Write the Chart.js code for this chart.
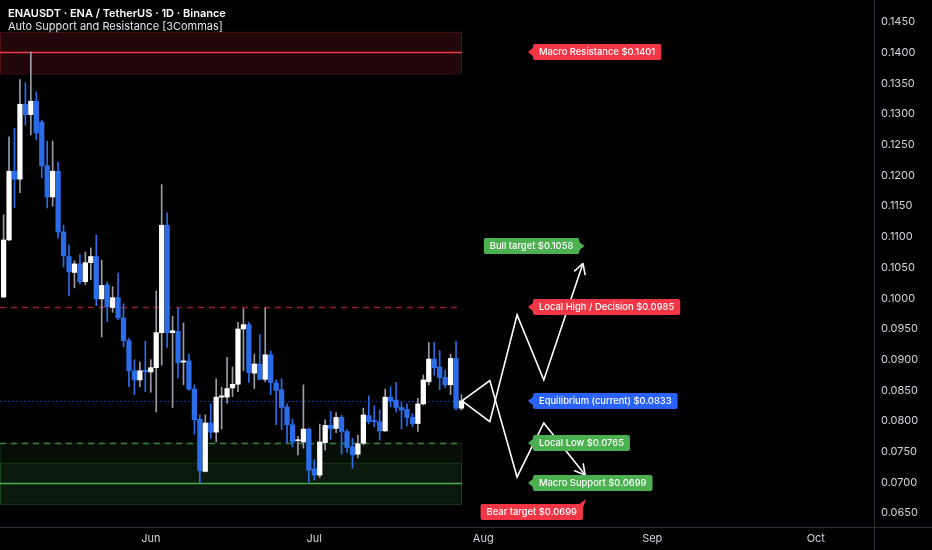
<!DOCTYPE html>
<html>
<head>
<meta charset="utf-8">
<script src="https://cdn.jsdelivr.net/npm/chart.js@4.4.1/dist/chart.umd.min.js"></script>
<style>
  html, body { margin: 0; padding: 0; background: #000; }
  #wrap { position: relative; width: 932px; height: 550px; }
</style>
</head>
<body>
<div id="wrap"><canvas id="chart"></canvas></div>
<script>
// ENAUSDT daily candles, first candle on startDate
const startDate = '2025-05-05';
const opens = [0.1002, 0.1095, 0.1207, 0.1194, 0.1316, 0.1299, 0.1321, 0.1287, 0.1216, 0.1165,
  0.1207, 0.1108, 0.1068, 0.1042, 0.1056, 0.1027, 0.1058, 0.1068, 0.0999, 0.1022,
  0.0985, 0.1001, 0.0968, 0.0931, 0.0882, 0.0867, 0.0883, 0.0880, 0.0887, 0.0944,
  0.1119, 0.0944, 0.0946, 0.0896, 0.0898, 0.0852, 0.0803, 0.0718, 0.0797, 0.0782,
  0.0839, 0.0839, 0.0854, 0.0860, 0.0950, 0.0957, 0.0878, 0.0893, 0.0868, 0.0908,
  0.0862, 0.0851, 0.0823, 0.0794, 0.0768, 0.0766, 0.0787, 0.0722, 0.0712, 0.0765,
  0.0793, 0.0788, 0.0806, 0.0783, 0.0758, 0.0746, 0.0764, 0.0809, 0.0801, 0.0799,
  0.0784, 0.0839, 0.0834, 0.0822, 0.0819, 0.0806, 0.0796, 0.0828, 0.0864, 0.0901,
  0.0888, 0.0871, 0.0859, 0.0902, 0.0821];
const highs = [0.1136, 0.1263, 0.1277, 0.1356, 0.1351, 0.1401, 0.1336, 0.1290, 0.1256, 0.1256,
  0.1222, 0.1119, 0.1087, 0.1061, 0.1071, 0.1075, 0.1082, 0.1103, 0.1062, 0.1027,
  0.1019, 0.1041, 0.0991, 0.0935, 0.0900, 0.0896, 0.0930, 0.0900, 0.1012, 0.1185,
  0.1139, 0.0971, 0.0984, 0.0960, 0.0909, 0.0859, 0.0810, 0.0810, 0.0828, 0.0869,
  0.0855, 0.0904, 0.0888, 0.0961, 0.0983, 0.0961, 0.0909, 0.0941, 0.0984, 0.0914,
  0.0867, 0.0869, 0.0828, 0.0803, 0.0775, 0.0859, 0.0788, 0.0737, 0.0795, 0.0802,
  0.0816, 0.0814, 0.0810, 0.0786, 0.0772, 0.0777, 0.0821, 0.0841, 0.0825, 0.0818,
  0.0852, 0.0856, 0.0863, 0.0830, 0.0828, 0.0812, 0.0837, 0.0875, 0.0928, 0.0928,
  0.0915, 0.0883, 0.0909, 0.0930, 0.0843];
const lows = [0.1001, 0.1094, 0.1148, 0.1172, 0.1282, 0.1266, 0.1258, 0.1196, 0.1147, 0.1150,
  0.1098, 0.1051, 0.1004, 0.1017, 0.1023, 0.1022, 0.1030, 0.0988, 0.0937, 0.0962,
  0.0977, 0.0965, 0.0921, 0.0856, 0.0843, 0.0856, 0.0848, 0.0847, 0.0815, 0.0891,
  0.0920, 0.0822, 0.0870, 0.0859, 0.0850, 0.0779, 0.0699, 0.0717, 0.0772, 0.0766,
  0.0787, 0.0829, 0.0840, 0.0848, 0.0882, 0.0863, 0.0853, 0.0867, 0.0864, 0.0843,
  0.0794, 0.0786, 0.0764, 0.0758, 0.0745, 0.0756, 0.0701, 0.0704, 0.0708, 0.0753,
  0.0770, 0.0781, 0.0746, 0.0749, 0.0723, 0.0740, 0.0761, 0.0796, 0.0791, 0.0769,
  0.0783, 0.0823, 0.0815, 0.0787, 0.0792, 0.0791, 0.0783, 0.0826, 0.0859, 0.0875,
  0.0851, 0.0855, 0.0843, 0.0818, 0.0818];
const closes = [0.1095, 0.1207, 0.1194, 0.1316, 0.1299, 0.1321, 0.1269, 0.1216, 0.1165, 0.1207,
  0.1108, 0.1069, 0.1043, 0.1056, 0.1027, 0.1058, 0.1068, 0.0999, 0.1021, 0.0986,
  0.1001, 0.0968, 0.0931, 0.0882, 0.0867, 0.0882, 0.0880, 0.0887, 0.0944, 0.1119,
  0.0944, 0.0947, 0.0895, 0.0898, 0.0852, 0.0802, 0.0719, 0.0797, 0.0782, 0.0839,
  0.0841, 0.0853, 0.0860, 0.0950, 0.0957, 0.0879, 0.0893, 0.0868, 0.0908, 0.0863,
  0.0850, 0.0822, 0.0794, 0.0766, 0.0769, 0.0787, 0.0720, 0.0712, 0.0766, 0.0793,
  0.0788, 0.0806, 0.0783, 0.0757, 0.0745, 0.0763, 0.0810, 0.0799, 0.0799, 0.0784,
  0.0839, 0.0833, 0.0822, 0.0818, 0.0806, 0.0796, 0.0828, 0.0867, 0.0901, 0.0887,
  0.0871, 0.0859, 0.0902, 0.0821, 0.0833];

const monthTicks = ['2025-06-01', '2025-07-01', '2025-08-01', '2025-09-01', '2025-10-01'];
const monthLabels = ['Jun', 'Jul', 'Aug', 'Sep', 'Oct'];
const priceTicks = [0.065, 0.070, 0.075, 0.080, 0.085, 0.090, 0.095, 0.100, 0.105,
  0.110, 0.115, 0.120, 0.125, 0.130, 0.135, 0.140, 0.145];

// support / resistance levels
const levelNames = ['Macro Resistance', 'Bull target', 'Local High / Decision',
  'Equilibrium (current)', 'Local Low', 'Macro Support', 'Bear target'];
const levelValues = [0.1401, 0.1058, 0.0985, 0.0833, 0.0765, 0.0699, 0.0699];
const resistanceZone = [0.1366, 0.1434];
const supportZone = [0.0665, 0.0765];
const supportCore = [0.0665, 0.0732];

// projected paths (x in days from startDate)
const bullDays = [84.1, 89.2, 94.2, 99.1, 106.3];
const bullPrices = [0.0833, 0.0799, 0.0973, 0.0867, 0.1057];
const bearDays = [84.1, 89.2, 94.2, 99.1, 106.7];
const bearPrices = [0.0833, 0.0866, 0.0709, 0.0797, 0.0712];

const RED = '#f23645', GREEN = '#4caf50', BLUE = '#2962ff';
const UP = '#ffffff', UP_WICK = '#9a9da5', DOWN = '#2b6de8';
const FONT = 'Inter, "Noto Sans", sans-serif';

function dayOffset(d) {
  return (Date.parse(d + 'T00:00:00Z') - Date.parse(startDate + 'T00:00:00Z')) / 86400000;
}
const isUp = i => closes[i] >= opens[i];
const lineEnd = closes.length - 1 + 0.1;

// tag placement: x in days, y in price, arrow side
const tags = [
  { i: 0, color: RED, x: 96.2, y: 0.1401, side: 'left' },
  { i: 1, color: GREEN, x: 88.1, y: 0.1085, side: 'right' },
  { i: 2, color: RED, x: 96.2, y: 0.0985, side: 'left' },
  { i: 3, color: BLUE, x: 96.2, y: 0.0833, side: 'left' },
  { i: 4, color: GREEN, x: 96.2, y: 0.0765, side: 'left' },
  { i: 5, color: GREEN, x: 96.2, y: 0.0699, side: 'left' },
  { i: 6, color: RED, x: 87.5, y: 0.0652, side: 'up' },
];

const overlay = {
  id: 'overlay',
  beforeDatasetsDraw(chart) {
    const { ctx, chartArea, scales: { x, y } } = chart;
    const x0 = chartArea.left, x1 = x.getPixelForValue(lineEnd);
    ctx.save();
    const zone = (z, fill, edge) => {
      const top = y.getPixelForValue(z[1]), bot = y.getPixelForValue(z[0]);
      ctx.fillStyle = fill;
      ctx.fillRect(x0, top, x1 - x0, bot - top);
      ctx.strokeStyle = edge;
      ctx.lineWidth = 1;
      ctx.strokeRect(x0 + 0.5, top + 0.5, x1 - x0 - 1, bot - top);
    };
    zone(resistanceZone, 'rgba(242,54,69,0.14)', 'rgba(242,54,69,0.22)');
    zone(supportZone, 'rgba(76,175,80,0.08)', 'rgba(76,175,80,0.12)');
    zone(supportCore, 'rgba(76,175,80,0.07)', 'rgba(76,175,80,0.2)');

    const hline = (v, color, width, dash) => {
      const py = Math.round(y.getPixelForValue(v)) + 0.5;
      ctx.strokeStyle = color;
      ctx.lineWidth = width;
      ctx.setLineDash(dash);
      ctx.beginPath();
      ctx.moveTo(x0, py);
      ctx.lineTo(x1, py);
      ctx.stroke();
    };
    hline(levelValues[0], RED, 1.5, []);
    hline(levelValues[2], 'rgba(242,54,69,0.6)', 1.5, [6, 5]);
    hline(levelValues[3], 'rgba(41,98,255,0.75)', 1, [1.5, 2.5]);
    hline(levelValues[4], 'rgba(76,175,80,0.7)', 1.5, [6, 5]);
    hline(levelValues[5], GREEN, 1.5, []);
    ctx.restore();
  },
  afterDatasetsDraw(chart) {
    const { ctx, scales: { x, y } } = chart;
    ctx.save();
    // arrow heads on the projected paths
    chart.data.datasets.forEach((ds, di) => {
      if (ds.type !== 'line') return;
      const pts = chart.getDatasetMeta(di).data;
      const a = pts[pts.length - 2], b = pts[pts.length - 1];
      const ang = Math.atan2(b.y - a.y, b.x - a.x);
      ctx.strokeStyle = '#ffffff';
      ctx.lineWidth = 1.6;
      ctx.beginPath();
      [-0.5, 0.5].forEach(d => {
        ctx.moveTo(b.x, b.y);
        ctx.lineTo(b.x - 12 * Math.cos(ang + d), b.y - 12 * Math.sin(ang + d));
      });
      ctx.stroke();
    });

    // price tags
    ctx.font = '500 9.4px ' + FONT;
    ctx.textBaseline = 'middle';
    tags.forEach(t => {
      const text = levelNames[t.i] + ' $' + levelValues[t.i].toFixed(4);
      const w = ctx.measureText(text).width + 12, h = 16;
      const px = x.getPixelForValue(t.x), py = Math.round(y.getPixelForValue(t.y));
      let bx = px;
      ctx.fillStyle = t.color;
      ctx.beginPath();
      if (t.side === 'left') {
        bx = px + 5;
        ctx.moveTo(px, py);
        ctx.lineTo(bx + 1, py - 5);
        ctx.lineTo(bx + 1, py + 5);
      } else if (t.side === 'right') {
        ctx.moveTo(bx + w + 5, py);
        ctx.lineTo(bx + w - 1, py - 5);
        ctx.lineTo(bx + w - 1, py + 5);
      } else {
        ctx.moveTo(bx + w - 5, py - h / 2 + 1);
        ctx.lineTo(bx + w + 3, py - h / 2 - 5);
        ctx.lineTo(bx + w, py - h / 2 + 4);
      }
      ctx.closePath();
      ctx.fill();
      ctx.beginPath();
      ctx.roundRect(bx, py - h / 2, w, h, 2);
      ctx.fill();
      ctx.fillStyle = '#ffffff';
      ctx.fillText(text, bx + 6, py + 0.5);
    });
    ctx.restore();
  },
  afterDraw(chart) {
    const { ctx, chartArea, width, height } = chart;
    ctx.save();
    // panel separators
    ctx.strokeStyle = '#2a2e39';
    ctx.lineWidth = 1;
    ctx.beginPath();
    ctx.moveTo(chartArea.right + 0.5, 0);
    ctx.lineTo(chartArea.right + 0.5, height);
    ctx.moveTo(0, chartArea.bottom + 0.5);
    ctx.lineTo(width, chartArea.bottom + 0.5);
    ctx.stroke();
    // header
    ctx.textBaseline = 'middle';
    ctx.fillStyle = '#ffffff';
    ctx.font = '600 11px ' + FONT;
    ctx.fillText('ENAUSDT · ENA / TetherUS · 1D · Binance', 8, 13.5);
    ctx.fillStyle = '#e0e3eb';
    ctx.font = '400 11px ' + FONT;
    ctx.fillText('Auto Support and Resistance [3Commas]', 8, 27);
    ctx.restore();
  }
};

new Chart(document.getElementById('chart'), {
  type: 'bar',
  data: {
    datasets: [
      {
        label: 'wick',
        data: opens.map((o, i) => ({ x: i, y: [lows[i], highs[i]] })),
        backgroundColor: c => isUp(c.dataIndex) ? UP_WICK : DOWN,
        barThickness: 1,
        grouped: false,
        order: 3
      },
      {
        label: 'body',
        data: opens.map((o, i) => ({ x: i, y: [o, closes[i]] })),
        backgroundColor: c => isUp(c.dataIndex) ? UP : DOWN,
        barThickness: 4.6,
        minBarLength: 1,
        grouped: false,
        order: 2
      },
      {
        type: 'line',
        label: 'bull',
        data: bullDays.map((d, i) => ({ x: d, y: bullPrices[i] })),
        borderColor: '#ffffff',
        borderWidth: 1.6,
        pointRadius: 0,
        tension: 0,
        order: 1
      },
      {
        type: 'line',
        label: 'bear',
        data: bearDays.map((d, i) => ({ x: d, y: bearPrices[i] })),
        borderColor: '#ffffff',
        borderWidth: 1.6,
        pointRadius: 0,
        tension: 0,
        order: 1
      }
    ]
  },
  options: {
    responsive: true,
    maintainAspectRatio: false,
    animation: false,
    layout: { padding: 0 },
    plugins: { legend: { display: false }, tooltip: { enabled: false } },
    scales: {
      x: {
        type: 'linear',
        offset: false,
        min: -0.66,
        max: 159.68,
        grid: { display: false, drawTicks: false },
        border: { display: false },
        afterBuildTicks: s => { s.ticks = monthTicks.map(d => ({ value: dayOffset(d) })); },
        afterFit: s => { s.height = 23; s.paddingLeft = 0; s.paddingRight = 0; },
        ticks: {
          autoSkip: false,
          maxRotation: 0,
          padding: 5,
          color: '#d1d4dc',
          font: { family: FONT, size: 11 },
          callback: (v, i) => monthLabels[i]
        }
      },
      y: {
        position: 'right',
        min: 0.06275,
        max: 0.14858,
        grid: { display: false, drawTicks: false },
        border: { display: false },
        afterBuildTicks: s => { s.ticks = priceTicks.map(v => ({ value: v })); },
        afterFit: s => { s.width = 58; s.paddingTop = 0; s.paddingBottom = 0; },
        ticks: {
          padding: 7,
          color: '#d1d4dc',
          font: { family: FONT, size: 11 },
          callback: v => v.toFixed(4)
        }
      }
    }
  },
  plugins: [overlay]
});
</script>
</body>
</html>
